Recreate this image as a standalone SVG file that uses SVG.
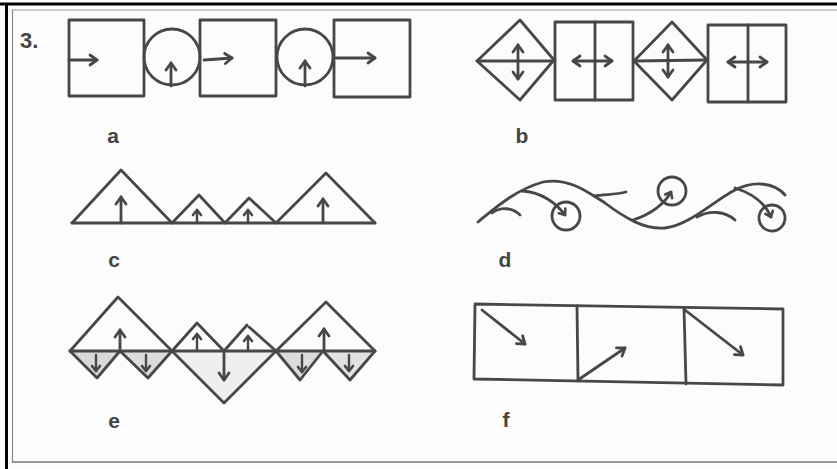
<svg xmlns="http://www.w3.org/2000/svg" width="837" height="469" viewBox="0 0 837 469">
<style>
.ln{fill:none;stroke:#474747;stroke-width:2.8;stroke-linejoin:round;stroke-linecap:round}
.ar{fill:none;stroke:#474747;stroke-width:2.8;stroke-linecap:round;marker-end:url(#h)}
.ars{fill:none;stroke:#474747;stroke-width:2.4;stroke-linecap:round;marker-end:url(#hs)}
.dbl{fill:none;stroke:#474747;stroke-width:2.8;stroke-linecap:round;marker-end:url(#h);marker-start:url(#h)}
.lbl{font-family:"Liberation Sans",Arial,sans-serif;font-weight:bold;font-size:21px;fill:#444;text-anchor:middle}
</style>
<defs>
<marker id="h" viewBox="-10 -7 12 14" refX="0" refY="0" markerWidth="12" markerHeight="14" markerUnits="userSpaceOnUse" orient="auto-start-reverse">
<path d="M-7,-5 L0,0 L-7,5" fill="none" stroke="#474747" stroke-width="2.8" stroke-linecap="round" stroke-linejoin="round"/>
</marker>
<marker id="hs" viewBox="-8 -6 10 12" refX="0" refY="0" markerWidth="10" markerHeight="12" markerUnits="userSpaceOnUse" orient="auto">
<path d="M-5,-4 L0,0 L-5,4" fill="none" stroke="#474747" stroke-width="2.6" stroke-linecap="round" stroke-linejoin="round"/>
</marker>
</defs>
<rect x="0" y="0" width="837" height="469" fill="#fcfcfc"/>
<g id="frame">
<line x1="0" y1="4" x2="837" y2="4" stroke="#000" stroke-width="3"/>
<line x1="6.5" y1="3" x2="6.5" y2="469" stroke="#000" stroke-width="3"/>
<line x1="12" y1="10" x2="837" y2="10" stroke="#999" stroke-width="1"/>
<line x1="12.5" y1="10" x2="12.5" y2="462" stroke="#888" stroke-width="1.2"/>
<line x1="12" y1="462" x2="837" y2="462" stroke="#777" stroke-width="1.4"/>
<text x="20" y="48" font-family="Liberation Sans,Arial,sans-serif" font-weight="bold" font-size="22" fill="#444">3.</text>
</g>
<g id="panel-a">
<rect class="ln" x="69" y="20" width="75" height="76"/>
<circle class="ln" cx="172" cy="57" r="28"/>
<rect class="ln" x="200" y="20" width="76" height="76"/>
<circle class="ln" cx="305" cy="57" r="28"/>
<rect class="ln" x="334" y="20" width="76" height="77"/>
<line class="ar" x1="69" y1="60" x2="97" y2="60"/>
<line class="ar" x1="171" y1="86" x2="171" y2="63"/>
<line class="ar" x1="204" y1="60" x2="232" y2="58"/>
<line class="ar" x1="305" y1="86" x2="305" y2="61"/>
<line class="ar" x1="336" y1="58" x2="375" y2="58"/>
<text class="lbl" x="113" y="143">a</text>
</g>
<g id="panel-b">
<polygon class="ln" points="477,61 520,20 554,60 520,100"/>
<line class="ln" x1="477" y1="61" x2="555" y2="61"/>
<line class="dbl" x1="518" y1="45" x2="518" y2="79"/>
<rect class="ln" x="555" y="22" width="78" height="78"/>
<line class="ln" x1="595" y1="22" x2="595" y2="100"/>
<line class="dbl" x1="573" y1="61" x2="612" y2="61"/>
<polygon class="ln" points="634,61 672,22 707,60 672,100"/>
<line class="ln" x1="634" y1="61" x2="707" y2="60"/>
<line class="dbl" x1="668" y1="45" x2="668" y2="77"/>
<rect class="ln" x="708" y="25" width="78" height="77"/>
<line class="ln" x1="748" y1="25" x2="748" y2="102"/>
<line class="dbl" x1="728" y1="62" x2="767" y2="62"/>
<text class="lbl" x="522" y="143">b</text>
</g>
<g id="panel-c">
<line class="ln" x1="72" y1="223" x2="375" y2="223"/>
<polyline class="ln" points="72,223 121,170 172,223 199,195 225,223 249,198 276,223 326,173 375,223"/>
<line class="ar" x1="121" y1="223" x2="121" y2="197"/>
<line class="ars" x1="197" y1="223" x2="197" y2="210"/>
<line class="ars" x1="248" y1="223" x2="248" y2="210"/>
<line class="ar" x1="323" y1="223" x2="323" y2="199"/>
<text class="lbl" x="114" y="267">c</text>
</g>
<g id="panel-d">
<path class="ln" d="M478,222 C495,208 515,190 543,182 C568,177 588,192 605,203 C625,218 645,230 665,228 C690,225 715,200 735,190 C755,180 775,183 785,195"/>
<path class="ln" d="M492,213 C500,207 512,207 520,215"/>
<path class="ln" d="M522,191 C542,192 557,204 565,215" marker-end="url(#hs)"/>
<circle class="ln" cx="566" cy="216" r="14"/>
<path class="ln" d="M594,196 C605,194 615,195 626,192"/>
<path class="ln" d="M633,220 C652,214 665,203 671,192" marker-end="url(#hs)"/>
<circle class="ln" cx="672" cy="191" r="14"/>
<path class="ln" d="M697,217 C710,210 725,211 735,220"/>
<path class="ln" d="M735,188 C754,194 766,205 771,217" marker-end="url(#hs)"/>
<circle class="ln" cx="772" cy="218" r="13"/>
<text class="lbl" x="505" y="267">d</text>
</g>
<g id="panel-e">
<polygon points="70,351 97,378 120,351" fill="#d9d9d9"/>
<polygon points="120,351 148,378 172,351" fill="#dcdcdc"/>
<polygon points="172,351 224,403 276,351" fill="#efefef"/>
<polygon points="276,351 300,380 323,351" fill="#dcdcdc"/>
<polygon points="323,351 350,380 375,351" fill="#e2e2e2"/>
<line class="ln" x1="70" y1="351" x2="375" y2="351"/>
<polyline class="ln" points="70,351 118,297 172,351"/>
<polyline class="ln" points="70,351 97,378 120,351 148,378 172,351"/>
<polyline class="ln" points="172,351 197,323 224,351 247,325"/>
<polyline class="ln" points="249,327 276,351"/>
<polyline class="ln" points="172,351 224,403 276,351"/>
<polyline class="ln" points="276,351 326,302 375,351"/>
<polyline class="ln" points="276,351 300,380 323,351 350,380 375,351"/>
<line class="ar" x1="120" y1="351" x2="120" y2="330"/>
<line class="ars" x1="96" y1="355" x2="96" y2="371"/>
<line class="ars" x1="146" y1="355" x2="146" y2="371"/>
<line class="ars" x1="197" y1="351" x2="197" y2="334"/>
<line class="ars" x1="248" y1="351" x2="248" y2="336"/>
<line class="ar" x1="224" y1="351" x2="224" y2="380"/>
<line class="ar" x1="324" y1="351" x2="324" y2="329"/>
<line class="ars" x1="302" y1="355" x2="302" y2="372"/>
<line class="ars" x1="349" y1="355" x2="349" y2="371"/>
<text class="lbl" x="114" y="428">e</text>
</g>
<g id="panel-f">
<polygon class="ln" points="475,304 783,309 783,385 474,379"/>
<line class="ln" x1="577" y1="306" x2="578" y2="381"/>
<line class="ln" x1="684" y1="308" x2="686" y2="384"/>
<line class="ar" x1="482" y1="310" x2="525" y2="344"/>
<line class="ar" x1="578" y1="380" x2="625" y2="348"/>
<line class="ar" x1="685" y1="310" x2="743" y2="355"/>
<text class="lbl" x="506" y="427">f</text>
</g>
</svg>
